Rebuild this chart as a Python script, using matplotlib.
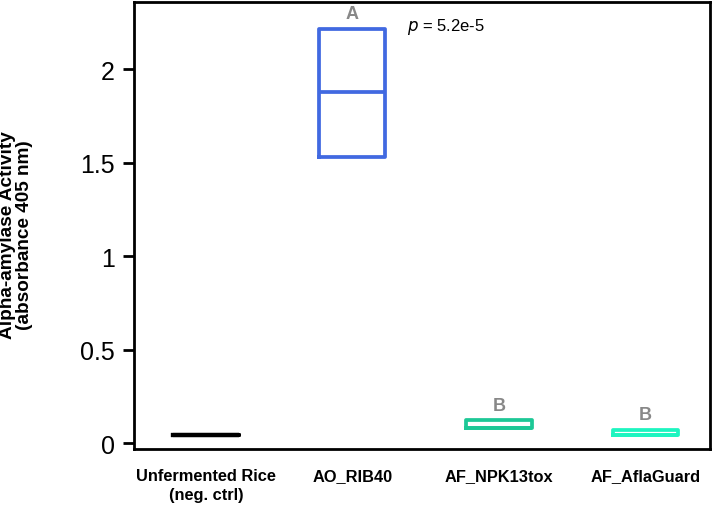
import matplotlib.pyplot as plt

groups = ["Unfermented Rice\n(neg. ctrl)", "AO_RIB40", "AF_NPK13tox", "AF_AflaGuard"]
q1 = [0.044, 1.533, 0.083, 0.044]
med = [0.044, 1.88, 0.083, 0.044]
q3 = [0.044, 2.217, 0.124, 0.072]
letters = ["", "A", "B", "B"]
colors = ["black", "#4169E1", "#1DC896", "#1DF5C0"]

plt.rcParams['font.family'] = ['Liberation Sans', 'DejaVu Sans']

fig = plt.figure(figsize=(7.14, 5.06), dpi=100)
ax = fig.add_axes([0.1877, 0.1107, 0.8067, 0.8833])

pos = list(range(1, len(groups) + 1))
for i, p in enumerate(pos):
    stats = [dict(med=med[i], q1=q1[i], q3=q3[i], whislo=q1[i], whishi=q3[i], fliers=[])]
    lw = 3.0 if i == 0 else 2.7
    ax.bxp(stats, positions=[p], widths=0.45, showcaps=False, showfliers=False,
           boxprops=dict(color=colors[i], linewidth=lw),
           medianprops=dict(color=colors[i], linewidth=lw),
           whiskerprops=dict(color=colors[i], linewidth=0))
    if letters[i]:
        ax.text(p, q3[i] + 0.08, letters[i], ha='center', va='center',
                fontsize=13, fontweight='bold', color='#888888')

ax.text(2.37, 2.23, r"$p$ = 5.2e-5", fontsize=12, ha='left', va='center')

ax.set_xlim(0.51, 4.44)
ax.set_ylim(-0.03, 2.36)
ax.set_yticks([0, 0.5, 1, 1.5, 2])
ax.set_yticklabels(["0", "0.5", "1", "1.5", "2"])
ax.set_xticks(pos)
ax.set_xticklabels(groups, fontsize=11.8, fontweight='bold', linespacing=1.3)
ax.tick_params(axis='x', length=0, pad=14)
ax.tick_params(axis='y', labelsize=18, length=8, width=2, pad=6)
for s in ax.spines.values():
    s.set_linewidth(2)

ax.set_ylabel("Alpha-amylase Activity\n(absorbance 405 nm)", fontsize=13.7,
              fontweight='bold', linespacing=1.0)
ax.yaxis.set_label_coords(-0.175, 0.48)

fig.savefig("out.png", dpi=100)
